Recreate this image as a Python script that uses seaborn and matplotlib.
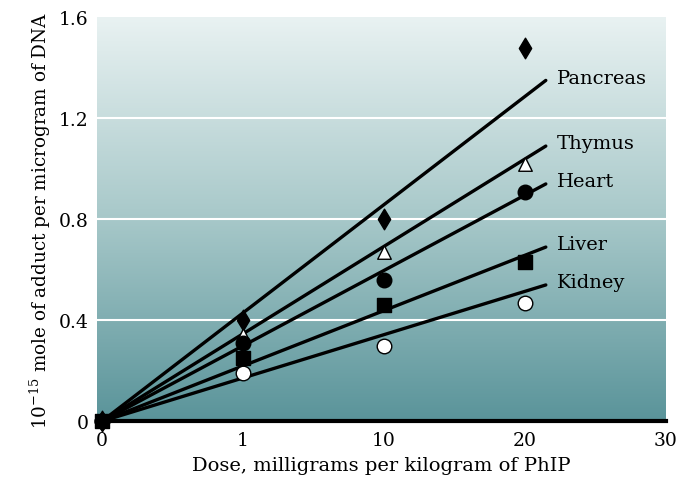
import numpy as np
import pandas as pd
import seaborn as sns
import matplotlib.pyplot as plt
from matplotlib.colors import LinearSegmentedColormap

# Dose tick labels (equally spaced categories on the x axis)
dose_labels = ['0', '1', '10', '20', '30']
organs = ['Pancreas', 'Thymus', 'Heart', 'Liver', 'Kidney']

# measured adduct levels at doses 0, 1, 10, 20
pancreas = [0.0, 0.40, 0.80, 1.48]
thymus = [0.0, 0.34, 0.67, 1.02]
heart = [0.0, 0.31, 0.56, 0.91]
liver = [0.0, 0.25, 0.46, 0.63]
kidney = [0.0, 0.19, 0.30, 0.47]

# fitted line value at its end (x position 3.15)
fit_end_x = 3.15
fit_end = [1.35, 1.09, 0.94, 0.69, 0.54]

sns.set_theme(style='white')
plt.rcParams['font.family'] = ['DejaVu Serif']
plt.rcParams['mathtext.fontset'] = 'dejavuserif'
plt.rcParams['text.color'] = 'black'
plt.rcParams['axes.labelcolor'] = 'black'
plt.rcParams['xtick.labelcolor'] = 'black'
plt.rcParams['ytick.labelcolor'] = 'black'

rows = []
for name, vals in zip(organs, [pancreas, thymus, heart, liver, kidney]):
    for i, v in enumerate(vals):
        rows.append({'organ': name, 'pos': i, 'value': v})
df = pd.DataFrame(rows)

fig = plt.figure(figsize=(6.82, 4.81), dpi=100)
ax = fig.add_axes([0.142, 0.122, 0.834, 0.84])

ax.set_xlim(-0.035, 4.0)
ax.set_ylim(0, 1.6)

# gradient background
cmap = LinearSegmentedColormap.from_list('bg', ['#5a949a', '#a7c8c9', '#e9f2f2'])
grad = np.linspace(0, 1, 256).reshape(-1, 1)
ax.imshow(grad, extent=[-0.035, 4.0, 0, 1.6], aspect='auto', origin='lower',
          cmap=cmap, zorder=0)

for yv in [0.4, 0.8, 1.2]:
    ax.axhline(yv, color='white', lw=1.5, zorder=1)

# fitted lines
for name, ye in zip(organs, fit_end):
    sns.lineplot(x=[0, fit_end_x], y=[0, ye], color='black', lw=2.4, ax=ax, zorder=3)
    ax.annotate(name, (fit_end_x, ye), xytext=(8, 2), textcoords='offset points',
                ha='left', va='center', fontsize=14)

styles = {
    'Pancreas': dict(marker='d', color='black', edgecolor='black', s=110),
    'Thymus': dict(marker='^', color='white', edgecolor='black', s=95),
    'Heart': dict(marker='o', color='black', edgecolor='black', s=110),
    'Kidney': dict(marker='o', color='white', edgecolor='black', s=110),
    'Liver': dict(marker='s', color='black', edgecolor='black', s=110),
}
for name, st in styles.items():
    sub = df[df['organ'] == name]
    sns.scatterplot(data=sub, x='pos', y='value', ax=ax, zorder=4, clip_on=False,
                    linewidth=1.0, legend=False, **st)

ax.set_xticks(range(len(dose_labels)))
ax.set_xticklabels(dose_labels, fontsize=13.5)
ax.set_yticks([0, 0.4, 0.8, 1.2, 1.6])
ax.set_yticklabels(['0', '0.4', '0.8', '1.2', '1.6'], fontsize=13.5)
ax.tick_params(axis='x', direction='in', length=6, width=1.2, color='white', pad=7)
ax.tick_params(axis='y', length=0, pad=6)

for side in ['top', 'right', 'left']:
    ax.spines[side].set_visible(False)
ax.spines['bottom'].set_linewidth(3)
ax.spines['bottom'].set_color('black')
ax.spines['bottom'].set_zorder(5)

ax.set_xlabel('Dose, milligrams per kilogram of PhIP', fontsize=14, labelpad=5)
ax.set_ylabel(r'10$^{-15}$ mole of adduct per microgram of DNA', fontsize=13.2, labelpad=4)

fig.savefig('out.png', dpi=100)
